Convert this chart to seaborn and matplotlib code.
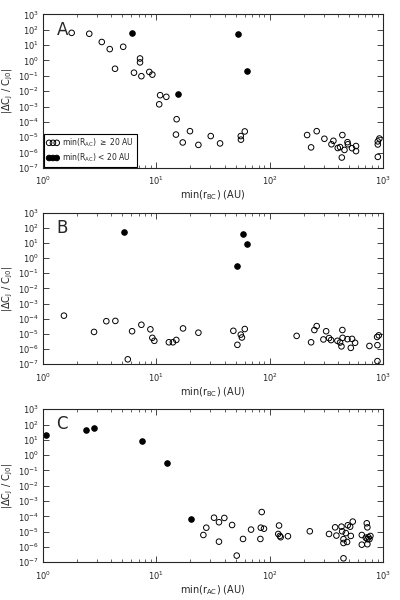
import numpy as np
import pandas as pd
import matplotlib
matplotlib.use('Agg')
import matplotlib.pyplot as plt
import matplotlib.ticker as mticker
import seaborn as sns

# 面板 A: min(r_BC)
a_open_x = [1.79, 2.56, 3.3, 3.88, 5.1, 4.32, 7.18, 7.18, 6.35, 7.38, 8.67, 9.22,
            10.8, 12.25, 10.6, 15.1, 14.9, 17.1, 19.8, 23.5, 30.2, 36.5, 55.6, 55.8, 60.3,
            214, 232, 260, 304, 351, 365, 399, 418, 438, 433, 457, 486, 490, 533, 578, 578,
            900, 929, 900, 900]
a_open_y = [63, 55, 16, 5.5, 7.8, 0.29, 1.35, 0.75, 0.16, 0.095, 0.18, 0.12,
            0.0055, 0.0043, 0.0014, 1.5e-4, 1.5e-5, 4.6e-6, 2.5e-5, 3.2e-6, 1.2e-5, 4e-6, 1.2e-5, 7e-6, 2.4e-5,
            1.4e-5, 2.2e-6, 2.5e-5, 8e-6, 3.5e-6, 5.9e-6, 2e-6, 2.3e-6, 1.4e-5, 4.8e-7, 1.5e-6, 4.8e-6, 3.5e-6,
            1.95e-6, 2.7e-6, 1.26e-6, 5.4e-6, 8.3e-6, 3.4e-6, 5.3e-7]
a_fill_x = [6.14, 15.5, 53, 63.1]
a_fill_y = [63, 0.0065, 52, 0.21]

# 面板 B: min(r_BC)
b_open_x = [1.53, 2.82, 3.62, 4.35, 5.6, 6.11, 7.38, 8.86, 9.22, 9.6, 12.9, 14.0, 15.0, 17.2, 23.5,
            47.8, 51.9, 55.6, 56.9, 60.3,
            173, 232, 248, 260, 298, 315, 334, 348, 396, 418, 430, 438, 440, 486, 520, 533, 567,
            759, 893, 887, 918, 893]
b_open_y = [1.6e-4, 1.35e-5, 6.9e-5, 7.2e-5, 2.1e-7, 1.5e-5, 4e-5, 2e-5, 5.5e-6, 3.5e-6, 2.8e-6, 2.8e-6, 4e-6, 2.3e-5, 1.2e-5,
            1.6e-5, 1.9e-6, 9e-6, 5.8e-6, 2.1e-5,
            7.4e-6, 2.8e-6, 1.8e-5, 3.3e-5, 4.3e-6, 1.5e-5, 5.3e-6, 3.9e-6, 3.5e-6, 2.7e-6, 1.5e-6, 1.8e-5, 5.5e-6,
            4.5e-6, 1.2e-6, 4.7e-6, 2.6e-6, 1.6e-6, 1.8e-6, 6.3e-6, 8e-6, 1.6e-7]
b_fill_x = [5.15, 58.2, 62.7, 51.6]
b_fill_y = [50, 40, 8.1, 0.29]

# 面板 C: min(r_AC)
c_open_x = [26, 27.6, 32.3, 35.7, 35.7, 39.8, 46.6, 51.2, 58.2, 68.5, 82.8, 83.5, 85.1, 89.1,
            119, 121, 123, 125, 145, 226, 334, 378, 388, 430, 436, 448, 448, 448, 470, 482, 489,
            513, 520, 541, 650, 650, 705, 719, 728, 728, 743, 728, 759, 774]
c_open_y = [6e-6, 1.8e-5, 8.1e-5, 4.1e-5, 2.2e-6, 7.8e-5, 2.7e-5, 2.7e-7, 3.3e-6, 1.35e-5, 3.3e-6, 1.8e-5, 1.9e-4, 1.55e-5,
            7e-6, 2.5e-5, 5.2e-6, 4.3e-6, 5e-6, 1.05e-5, 7e-6, 1.9e-5, 5.5e-6, 2.1e-5, 1.05e-5, 3.2e-6, 1.8e-6, 1.8e-7, 8e-6, 2.1e-6, 2.6e-5,
            2.1e-5, 5.2e-6, 4.5e-5, 6e-6, 1.4e-6, 4e-6, 3.5e-5, 1.9e-5, 3.2e-6, 4.3e-6, 1.5e-6, 3.2e-6, 5.2e-6]
c_fill_x = [1.056, 2.4, 2.84, 7.52, 12.4, 20.1]
c_fill_y = [20, 43, 55, 7.8, 0.29, 7e-5]

y_ticks = [10.0 ** k for k in range(-7, 4)]
x_ticks = [1, 10, 100, 1000]

panels = [
    ('A', a_open_x, a_open_y, a_fill_x, a_fill_y, r'min(r$_{BC}$) (AU)'),
    ('B', b_open_x, b_open_y, b_fill_x, b_fill_y, r'min(r$_{BC}$) (AU)'),
    ('C', c_open_x, c_open_y, c_fill_x, c_fill_y, r'min(r$_{AC}$) (AU)'),
]

sns.set_style('ticks')
plt.rcParams['font.family'] = ['DejaVu Sans']
plt.rcParams['mathtext.default'] = 'regular'

fig = plt.figure(figsize=(4, 6), dpi=100)
# 三个子图的位置 (left, bottom, width, height)
boxes = [(0.1075, 0.72, 0.85, 0.256),
         (0.1075, 0.393, 0.85, 0.2525),
         (0.1075, 0.063, 0.85, 0.255)]

for (letter, ox, oy, fx, fy, xlab), box in zip(panels, boxes):
    ax = fig.add_axes(box)
    df_o = pd.DataFrame({'x': ox, 'y': oy})
    df_f = pd.DataFrame({'x': fx, 'y': fy})
    sns.scatterplot(data=df_o, x='x', y='y', ax=ax, s=16, marker='o',
                    facecolor='none', edgecolor='black', linewidth=0.7, legend=False)
    sns.scatterplot(data=df_f, x='x', y='y', ax=ax, s=16, marker='o',
                    color='black', edgecolor='black', linewidth=0.7, legend=False)
    ax.set_xscale('log')
    ax.set_yscale('log')
    ax.set_xlim(1, 1000)
    ax.set_ylim(1e-7, 1e3)
    # 只保留轴范围内的刻度
    ax.yaxis.set_major_locator(mticker.FixedLocator(y_ticks))
    ax.yaxis.set_minor_locator(mticker.NullLocator())
    ax.xaxis.set_major_locator(mticker.FixedLocator(x_ticks))
    ax.xaxis.set_minor_locator(mticker.FixedLocator(
        [m * 10.0 ** d for d in range(3) for m in range(2, 10)]))
    ax.xaxis.set_minor_formatter(mticker.NullFormatter())
    ax.tick_params(which='both', direction='in', top=True, right=True, labelsize=6)
    ax.tick_params(which='major', length=4, width=0.6)
    ax.tick_params(which='minor', length=2, width=0.5)
    ax.tick_params(axis='x', pad=5)
    ax.tick_params(axis='y', pad=3)
    for sp in ax.spines.values():
        sp.set_linewidth(0.8)
    ax.set_xlabel(xlab, fontsize=7, labelpad=1)
    ax.set_ylabel(r'|$\Delta$C$_J$ / C$_{J0}$|', fontsize=7, labelpad=2)
    ax.text(0.04, 0.96, letter, transform=ax.transAxes, fontsize=12,
            ha='left', va='top')
    if letter == 'A':
        h = ax.collections
        leg = ax.legend([h[0], h[1]],
                        [r'min(R$_{AC}$) $\geq$ 20 AU', r'min(R$_{AC}$) < 20 AU'],
                        loc='lower left', scatterpoints=3, fontsize=5.5,
                        frameon=True, fancybox=False, borderaxespad=0.15,
                        handletextpad=0.4, borderpad=0.35, labelspacing=0.35,
                        handlelength=1.6, scatteryoffsets=[0.5])
        leg.get_frame().set_edgecolor('black')
        leg.get_frame().set_linewidth(0.8)
        leg.get_frame().set_alpha(1)

plt.savefig('out.png', dpi=100)
